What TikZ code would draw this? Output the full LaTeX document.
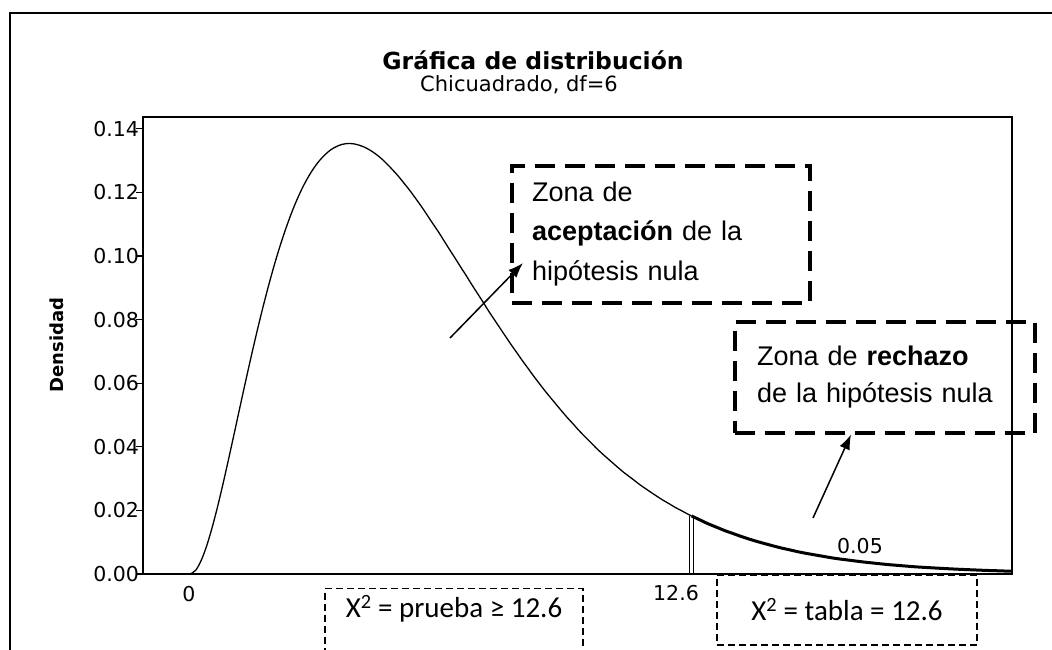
\documentclass[tikz,border=0pt]{standalone}
\usepackage{fontspec}
\setmainfont{DejaVu Sans}
\newfontfamily\arialfont{Liberation Sans}
\newfontfamily\calibrifont{Carlito}
\usetikzlibrary{arrows.meta}
\tikzset{
  zonebox/.style={draw,line width=4pt,dash pattern=on 20pt off 10pt,align=left,inner xsep=20pt,font=\arialfont\fontsize{27}{39.5}\selectfont},
  tablebox/.style={draw,line width=1.3pt,dash pattern=on 7pt off 4pt,font=\calibrifont\fontsize{29}{32}\selectfont},
  ticklab/.style={font=\fontsize{20.5}{22}\selectfont},
  pointer/.style={line width=1.5pt,-{Latex[length=15pt,width=11pt]}}
}

\begin{document}
\begin{tikzpicture}[x=1pt,y=-1pt,line width=1.3pt]
              \useasboundingbox (0,0) rectangle (1052,650);
              \clip (0,0) rectangle (1052,650);
              \draw[line width=1.8pt] (1052,13) -- (10,13) -- (10,650);
              \node[font=\bfseries\fontsize{23.5}{26}\selectfont](title)at(533,60){Gráfica de distribución};
              \node[font=\fontsize{21}{23}\selectfont](subtitle)at(519,85){Chicuadrado, df=6};
              \node[rotate=90,font=\bfseries\fontsize{18}{20}\selectfont](ylab)at(57,345){Densidad};
              \draw (143,117) rectangle (1012,574);
              \foreach \lab [count=\i from 0] in {0.00,0.02,0.04,0.06,0.08,0.10,0.12,0.14}
                \draw (136,574-63.6*\i) -- (143,574-63.6*\i) node[left,ticklab](t\i){\lab};
              \node[ticklab](xzero)at(189,594){0};
              \node[ticklab](xcrit)at(676,593){12.6};
              \node[ticklab](alpha)at(860,546){0.05};
              % chi-square density, df=6
              \begin{scope}[shift={(190,574)},x=39.84pt,y=3180pt]
                \draw[domain=0:12.59,samples=90,smooth] plot (\x,{\x*\x/16*exp(-\x/4)*exp(-\x/4)});
                \draw[line width=3pt,domain=12.59:20.63,samples=40,smooth] plot (\x,{\x*\x/16*exp(-\x/4)*exp(-\x/4)});
                \draw[line width=0.8pt] (12.54,0) -- (12.54,0.0182) (12.64,0) -- (12.64,0.0182);
              \end{scope}
              \node[zonebox,text width=258pt,minimum height=137pt](acept)at(661,234){Zona de\\\textbf{aceptación} de la\\hipótesis nula};
              \node[zonebox,text width=256pt,inner xsep=22pt,minimum height=111pt,font=\arialfont\fontsize{27}{37}\selectfont](rechazo)at(885,377){Zona de \textbf{rechazo}\\de la hipótesis nula};
              \node[tablebox,minimum width=258pt,inner ysep=0pt,text height=29pt,text depth=56pt,anchor=north](prueba)at(454,588){X\textsuperscript{2} = prueba ≥ 12.6};
              \node[tablebox,minimum width=260pt,minimum height=70pt](tabla)at(847,610){X\textsuperscript{2} = tabla = 12.6};
              \coordinate (acepfrom) at (450,338);
              \coordinate (rechfrom) at (813,518);
              \draw[pointer](acepfrom)--([shift={(13,29)}]acept.west);
              \draw[pointer](rechfrom)--([xshift=-34pt]rechazo.south);
            \end{tikzpicture}
\end{document}
